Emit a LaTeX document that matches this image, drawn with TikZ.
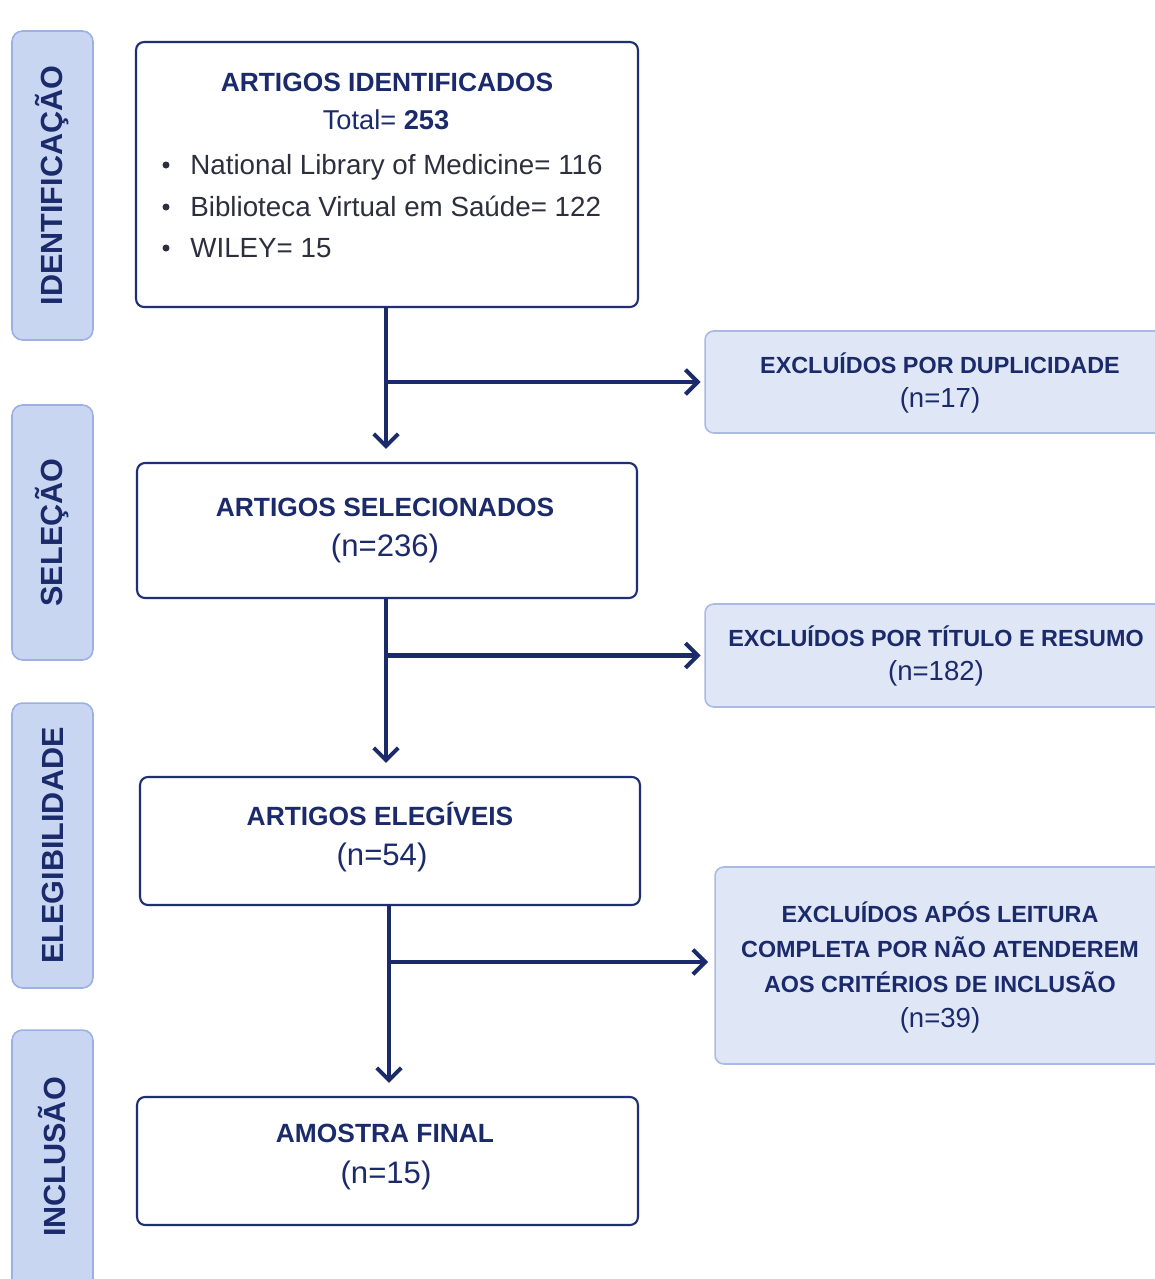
\documentclass[tikz,border=0pt]{standalone}
\usepackage{fontspec}
\setmainfont{Liberation Sans}
\usetikzlibrary{arrows.meta}
\definecolor{navy}{HTML}{1B2A6B}
\definecolor{boxline}{HTML}{1E2F72}
\definecolor{sidefill}{HTML}{C9D6F2}
\definecolor{sideline}{HTML}{9DB0E3}
\definecolor{exfill}{HTML}{DFE7F7}
\definecolor{exline}{HTML}{A9BAE5}
\definecolor{bodytext}{HTML}{2D2F3E}
\begin{document}
\begin{tikzpicture}[x=0.02cm,y=-0.02cm,
  mainbox/.style={draw=boxline,line width=1.2pt,rounded corners=4.5pt,fill=white,inner sep=0pt,outer sep=0pt},
  sidebox/.style={draw=sideline,line width=0.9pt,rounded corners=6pt,fill=sidefill,inner sep=0pt,outer sep=0pt,minimum width=1.62cm},
  exbox/.style={draw=exline,line width=0.9pt,rounded corners=5pt,fill=exfill,inner sep=0pt,outer sep=0pt},
  head/.style={text=navy,font=\fontsize{15}{18}\selectfont\bfseries,inner sep=0pt},
  nmain/.style={text=navy,font=\fontsize{17.7}{21}\selectfont,inner sep=0pt},
  exhead/.style={text=navy,font=\fontsize{13.3}{19.84}\selectfont\bfseries,inner sep=0pt,align=center},
  exn/.style={text=navy,font=\fontsize{15.7}{19}\selectfont,inner sep=0pt},
  sidelabel/.style={text=navy,font=\fontsize{17.4}{20}\selectfont\bfseries,rotate=90,inner sep=0pt},
  bodyt/.style={text=bodytext,font=\fontsize{15.8}{19}\selectfont,inner sep=0pt,anchor=base west},
  bul/.style={circle,fill=bodytext,inner sep=0pt,minimum size=0.14cm},
  arr/.style={draw=navy,line width=2.3pt,-{Straight Barb[length=7pt,width=14pt,line width=2.3pt]}},
]
\useasboundingbox (0,0) rectangle (1155,1279);
\clip (0,0) rectangle (1155,1279);
\fill[white] (0,0) rectangle (1155,1279);

% side phase boxes
\node[sidebox,minimum height=6.18cm] (s1) at (52.5,185.5) {};
\node[sidelabel] (s1t) at (s1.center) {IDENTIFICAÇÃO};
\node[sidebox,minimum height=5.10cm] (s2) at (52.5,532.5) {};
\node[sidelabel] (s2t) at (s2.center) {SELEÇÃO};
\node[sidebox,minimum height=5.70cm] (s3) at (52.5,845.5) {};
\node[sidelabel] (s3t) at (s3.center) {ELEGIBILIDADE};
\node[sidebox,minimum height=5.40cm] (s4) at (52.5,1165) {};
\node[sidelabel] (s4t) at (52.5,1157) {INCLUSÃO};

% main boxes
\node[mainbox,minimum width=10.04cm,minimum height=5.30cm] (b1) at (387,174.5) {};
\node[head] (b1h) at (387,82) {ARTIGOS IDENTIFICADOS};
\node[text=navy,font=\fontsize{15.5}{19}\selectfont,inner sep=0pt] (b1t) at (386,120) {Total= \textbf{253}};
\node[bul] (bu1) at (166,165) {};
\node[bodyt] (l1) at (190,174) {National Library of Medicine= 116};
\node[bul] (bu2) at (166,207) {};
\node[bodyt] (l2) at (190,216) {Biblioteca Virtual em Saúde= 122};
\node[bul] (bu3) at (166,248) {};
\node[bodyt] (l3) at (190,257) {WILEY= 15};

\node[mainbox,minimum width=10.0cm,minimum height=2.70cm] (b2) at (387,530.5) {};
\node[head] (b2h) at (385,507) {ARTIGOS SELECIONADOS};
\node[nmain] (b2n) at (385,548) {(n=236)};

\node[mainbox,minimum width=10.0cm,minimum height=2.56cm] (b3) at (390,841) {};
\node[head] (b3h) at (380,814) {ARTIGOS ELEGÍVEIS};
\node[nmain] (b3n) at (382,857) {(n=54)};

\node[mainbox,minimum width=10.02cm,minimum height=2.56cm] (b4) at (387.5,1161) {};
\node[head] (b4h) at (385,1133) {AMOSTRA FINAL};
\node[nmain] (b4n) at (386,1175) {(n=15)};

% exclusion boxes
\node[exbox,minimum width=9.2cm,minimum height=2.04cm] (r1) at (935,382) {};
\node[exhead] (r1h) at (940,363) {EXCLUÍDOS POR DUPLICIDADE};
\node[exn] (r1n) at (940,400) {(n=17)};

\node[exbox,minimum width=9.2cm,minimum height=2.06cm] (r2) at (935,655.5) {};
\node[exhead] (r2h) at (936,636) {EXCLUÍDOS POR TÍTULO E RESUMO};
\node[exn] (r2n) at (936,673) {(n=182)};

\node[exbox,minimum width=9.0cm,minimum height=3.94cm] (r3) at (940,965.5) {};
\node[exhead] (r3h) at (940,947) {EXCLUÍDOS APÓS LEITURA\\COMPLETA POR NÃO ATENDEREM\\AOS CRITÉRIOS DE INCLUSÃO};
\node[exn] (r3n) at (940,1020) {(n=39)};

% connectors
\coordinate (j1) at (386,382);
\coordinate (j2) at (386,655.5);
\coordinate (j3) at (389,962);
\draw[arr,shorten >=8pt] (b1.south -| j1) -- (j1 |- b2.north);
\draw[arr,shorten >=2.5pt] (j1) -- (j1 -| r1.west);
\draw[arr,shorten >=8pt] (b2.south -| j2) -- (j2 |- b3.north);
\draw[arr,shorten >=2.5pt] (j2) -- (j2 -| r2.west);
\draw[arr,shorten >=8pt] (b3.south -| j3) -- (j3 |- b4.north);
\draw[arr,shorten >=4pt] (j3) -- (j3 -| r3.west);
\end{tikzpicture}
\end{document}
